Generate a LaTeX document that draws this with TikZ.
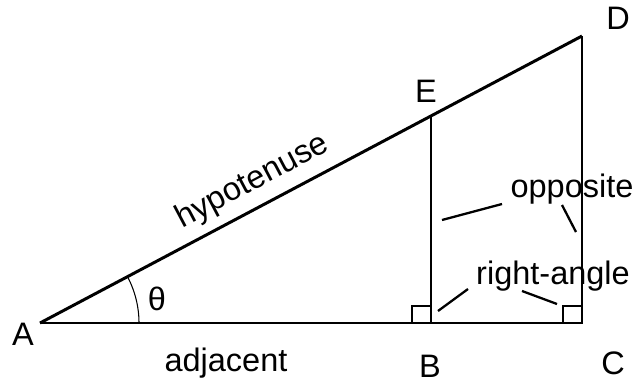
\documentclass[tikz,border=0pt]{standalone}
\usepackage{fontspec}
\setmainfont{Liberation Sans}
\usetikzlibrary{positioning}

\begin{document}
\begin{tikzpicture}[x=0.02cm, y=-0.02cm,
		lbl/.style={font=\fontsize{18.5}{22}\selectfont, inner sep=0pt, anchor=base},
		leader/.style={line width=1.3pt},
		side/.style={line width=0.6pt}]
	\useasboundingbox (0,0) rectangle (636,382);
	
	% Vertices
	\coordinate (A) at (40,323);
	\coordinate (B) at (431,323);
	\coordinate (C) at (582,323);
	\coordinate (D) at (582,36);
	\coordinate (E) at (431,116);
	
	% Triangle
	\draw[line width=1.7pt] (A) -- (D)
	node[sloped, pos=0.414, above=5pt, inner sep=0pt, font=\fontsize{18.5}{22}\selectfont] (hyp) {hypotenuse};
	\draw[line width=1pt] (A) -- (C);
	\draw[side] (C) -- (D);
	\draw[side] (B) -- (E);
	
	% Right angles and theta
	\draw[side] (B) rectangle ++(-19,-17);
	\draw[side] (C) rectangle ++(-19,-17);
	\draw[side] (A) ++(99,0) arc[start angle=0, end angle=-27.9, radius=99];
	\node[lbl] (theta) at (157,310) {θ};
	
	% Vertex labels
	\node[lbl] (lA) at (23,345) {A};
	\node[lbl] (lB) at (430,377) {B};
	\node[lbl] (lC) at (613,374) {C};
	\node[lbl] (lD) at (618,30) {D};
	\node[lbl] (lE) at (426,102) {E};
	\node[lbl] (adj) at (226,371) {adjacent};
	
	% Opposite
	\node[lbl] (opp) at (572,197) {opposite};
	\coordinate (opp1) at (442,220);
	\coordinate (opp1s) at (502,204);
	\coordinate (opp2) at (576,232);
	\coordinate (opp2s) at (562,205);
	\draw[leader] (opp1s) -- (opp1);
	\draw[leader] (opp2s) -- (opp2);
	
	% Right-angle
	\node[lbl] (ra) at (553,284) {right-angle};
	\coordinate (ra1) at (438,311);
	\coordinate (ra1s) at (468,289);
	\coordinate (ra2) at (557,304);
	\coordinate (ra2s) at (522,291);
	\draw[leader] (ra1s) -- (ra1);
	\draw[leader] (ra2s) -- (ra2);
	
\end{tikzpicture}
\end{document}
